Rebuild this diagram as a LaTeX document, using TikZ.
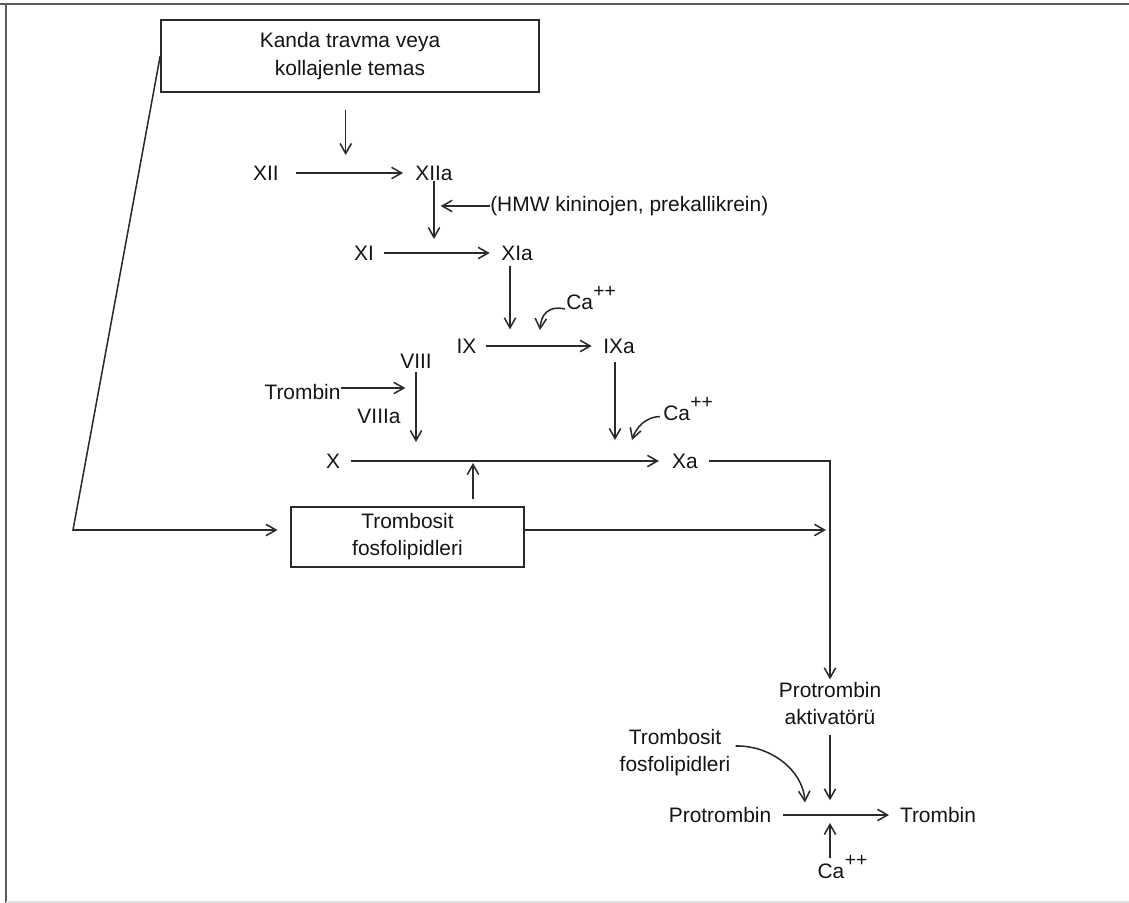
\documentclass[tikz,border=0pt]{standalone}
\usepackage{fontspec}
\setmainfont{Liberation Sans}
\usetikzlibrary{arrows.meta}
\definecolor{ink}{HTML}{141414}
\definecolor{wirec}{HTML}{2A2A2A}
\definecolor{framec}{HTML}{5A5A5A}
% calcium label: "Ca" with a raised "++" that does not widen the node
\newcommand{\calc}{Ca\smash{\rlap{\kern0.3pt\raisebox{9pt}{\fontsize{14.5}{14.5}\selectfont ++}}}}

\begin{document}
\begin{tikzpicture}[x=0.75pt,y=-0.75pt,
  every node/.style={font=\fontsize{15.7}{21}\selectfont, text=ink, inner sep=0pt},
  box/.style={draw=wirec, line width=1.2pt, align=center},
  link/.style={draw=wirec, line width=1.15pt},
  arr/.style={link, -{Straight Barb[length=7.5pt,width=8.5pt,line width=1.15pt]}}]

\useasboundingbox (0,0) rectangle (1129,903);

% page frame
\draw[framec, line width=1.6pt] (0,4) -- (1129,4);
\draw[framec, line width=1.6pt] (6,4) -- (6,903);
\draw[black!12, line width=1pt] (6,902) -- (1129,902);

% boxes
\node[box, minimum width=283.5pt, minimum height=54pt] (trauma) at (350,56) {Kanda travma veya\\kollajenle temas};
\node[box, minimum width=174.75pt, minimum height=45pt, font=\fontsize{15.7}{20.25}\selectfont] (plt) at (407.5,537) {Trombosit\\fosfolipidleri};

% factors
\node (xii)   at (266,173) {XII};
\node (xiia)  at (434,173) {XIIa};
\node[anchor=west] (hmw) at (490,206) {(HMW kininojen, prekallikrein)};
\node (xi)    at (364,253) {XI};
\node (xia)   at (517,253) {XIa};
\node[anchor=base west] (ca1) at (566,309) {\calc};
\node (ix)    at (466.5,346) {IX};
\node (ixa)   at (619,346) {IXa};
\node (viii)  at (416,361) {VIII};
\node (trb1)  at (302.5,392) {Trombin};
\node (viiia) at (379,416.5) {VIIIa};
\node[anchor=base west] (ca2) at (663,420.5) {\calc};
\node (x)     at (333,461) {X};
\node (xa)    at (685,461) {Xa};
\node[align=center, font=\fontsize{15.7}{20.25}\selectfont] (akt) at (830,703.5) {Protrombin\\aktivatörü};
\node[align=center, font=\fontsize{15.7}{20.25}\selectfont] (tf2) at (675,752.5) {Trombosit\\fosfolipidleri};
\node (pro)   at (720,815) {Protrombin};
\node (trb2)  at (938,815) {Trombin};
\node (ca3)   at (831,871.7) {\calc};

% points where side inputs meet a reaction
\coordinate (bend) at (73,530);
\coordinate (r0) at (345.7,172);
\coordinate (r1) at (434,251);
\coordinate (r2) at (510,344);
\coordinate (r4) at (416,460);
\coordinate (r5) at (615,460);
\coordinate (r6) at (473,460);
\coordinate (r7) at (830,814.3);
\coordinate (ca1tip) at (540,330);
\coordinate (ca2tip) at (632,440);
\coordinate (tf2tip) at (805,802.5);

% cascade
\draw[arr] (trauma.west) -- (bend) -- (bend -| plt.west)
  [shorten >=9.5pt];
\draw[arr, shorten <=12.75pt, shorten >=12.75pt] (r0 |- trauma.south) -- (r0);
\draw[arr, shorten <=13pt, shorten >=9pt] (xii.east) -- (xiia.west);
\draw[arr, shorten >=9pt] (xiia.south) -- (r1);
\draw[arr, shorten >=5pt] (hmw.west) -- (hmw.west -| xiia.south);
\draw[arr, shorten <=7.5pt, shorten >=8.5pt] (xi.east) -- (xia.west);
\draw[arr, shorten <=4pt, shorten >=11pt] (r2 |- xia.south) -- (r2);
\draw[arr] ([xshift=-0.75pt]ca1.base west) .. controls (548,305) and (541,315) .. (ca1tip);
\draw[arr, shorten <=7pt, shorten >=8.5pt] (ix.east) -- (ixa.west);
\draw[arr, shorten >=8pt] ([yshift=3pt]trb1.east) -- ([yshift=3pt]trb1.east -| viii.south);
\draw[arr, shorten <=2.5pt, shorten >=13.5pt] (viii.south) -- (r4);
\draw[arr, shorten <=6.4pt, shorten >=15pt] (r5 |- ixa.south) -- (r5);
\draw[arr] ([shift={(-3,-4)}]ca2.base west) .. controls (645,417) and (636,428) .. (ca2tip);
\draw[arr, shorten <=8.25pt, shorten >=9.75pt] (x.east) -- (xa.west);
\draw[arr, shorten <=5.25pt, shorten >=2.25pt] (r6 |- plt.north) -- (r6);
\draw[arr, shorten <=8.25pt, shorten >=2pt] (xa.east) -- (xa.east -| akt.north) -- (akt.north);
\draw[arr, shorten >=3pt] (plt.east |- bend) -- (akt.north |- bend);

% thrombin formation
\draw[arr, shorten <=7.5pt, shorten >=10.5pt] (akt.south) -- (r7);
\draw[arr] ([shift={(5,-6.5)}]tf2.east) .. controls (770,745) and (803,770) .. (tf2tip);
\draw[arr, shorten <=8.5pt, shorten >=8pt] (pro.east) -- (trb2.west);
\draw[arr, shorten <=4.5pt, shorten >=6.5pt] (ca3.north -| r7) -- (r7);
\end{tikzpicture}
\end{document}
